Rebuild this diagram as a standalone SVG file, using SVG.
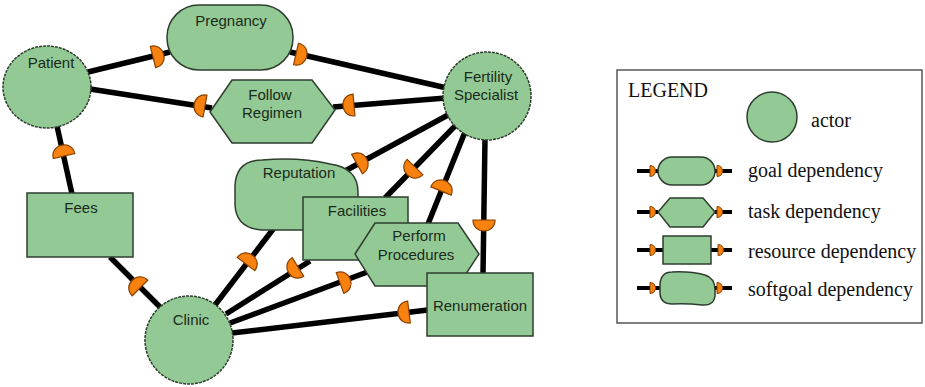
<svg xmlns="http://www.w3.org/2000/svg" width="925" height="387" viewBox="0 0 925 387">
<style>
.node{fill:#93c994;stroke:#2e3e2e;stroke-width:1.5}
.lbl{font-family:"Liberation Sans",Arial,sans-serif;font-size:15px;fill:#1b2b1b;text-anchor:middle}
.ln{stroke:#000;stroke-width:5.5;fill:none;stroke-linecap:butt}
.lg{font-family:"Liberation Serif","Times New Roman",serif;font-size:20px;fill:#111}
.lln{stroke:#000;stroke-width:4;fill:none}
</style>
<defs>
<path id="dm" d="M0,-11 C7,-11 11,-6 11,0 C11,6 7,11 0,11 Z" fill="#f7820f" stroke="#8a4000" stroke-width="1.2"/>
<path id="dms" d="M0,-5.5 C3.5,-5.5 5.5,-3 5.5,0 C5.5,3 3.5,5.5 0,5.5 Z" fill="#f7820f" stroke="#8a4000" stroke-width="1"/>
</defs>
<rect width="925" height="387" fill="#fff"/>
<g id="connectors">
<line class="ln" x1="88" y1="72" x2="170" y2="52"/>
<line class="ln" x1="290" y1="52" x2="447" y2="88"/>
<line class="ln" x1="90" y1="89" x2="212" y2="108"/>
<line class="ln" x1="333" y1="107" x2="446" y2="98"/>
<line class="ln" x1="57" y1="126" x2="72" y2="194"/>
<line class="ln" x1="110" y1="257" x2="162" y2="309"/>
<line class="ln" x1="215" y1="305" x2="274" y2="228"/>
<line class="ln" x1="226" y1="314" x2="310" y2="261"/>
<line class="ln" x1="230" y1="323" x2="370" y2="271"/>
<line class="ln" x1="232" y1="333" x2="428" y2="310"/>
<line class="ln" x1="448" y1="115" x2="345" y2="171"/>
<line class="ln" x1="455" y1="126" x2="385" y2="198"/>
<line class="ln" x1="465" y1="132" x2="428" y2="224"/>
<line class="ln" x1="485" y1="138" x2="483" y2="274"/>
<use href="#dm" transform="translate(153,57) rotate(-14)"/>
<use href="#dm" transform="translate(296,54) rotate(13)"/>
<use href="#dm" transform="translate(205,106) rotate(190)"/>
<use href="#dm" transform="translate(354,105) rotate(175)"/>
<use href="#dm" transform="translate(64,156) rotate(-103)"/>
<use href="#dm" transform="translate(140,288) rotate(225)"/>
<use href="#dm" transform="translate(246,264) rotate(-53)"/>
<use href="#dm" transform="translate(298,267) rotate(148)"/>
<use href="#dm" transform="translate(340,283) rotate(-20)"/>
<use href="#dm" transform="translate(409,312) rotate(173)"/>
<use href="#dm" transform="translate(357,164) rotate(-29)"/>
<use href="#dm" transform="translate(415,167) rotate(134)"/>
<use href="#dm" transform="translate(441,191) rotate(-68)"/>
<use href="#dm" transform="translate(484,220) rotate(90)"/>
</g>
<g id="patient"><ellipse class="node" cx="47" cy="87" rx="44" ry="41" stroke-dasharray="3,1"/><text class="lbl" x="51" y="68">Patient</text></g>
<g id="fertility-specialist"><circle class="node" cx="487" cy="96" r="44" stroke-dasharray="3,1"/><text class="lbl" x="488" y="82">Fertility</text><text class="lbl" x="486" y="100">Specialist</text></g>
<g id="clinic"><circle class="node" cx="189" cy="340" r="44" stroke-dasharray="3,1"/><text class="lbl" x="191" y="325">Clinic</text></g>
<g id="pregnancy"><rect class="node" x="167" y="5" width="126" height="65" rx="32" ry="32"/><text class="lbl" x="231" y="26">Pregnancy</text></g>
<g id="follow-regimen"><polygon class="node" points="210,112 232,80 312,80 335,110 312,143 232,143"/><text class="lbl" x="270" y="100">Follow</text><text class="lbl" x="272" y="118">Regimen</text></g>
<g id="fees"><rect class="node" x="27" y="193" width="106" height="64"/><text class="lbl" x="81" y="213">Fees</text></g>
<g id="reputation"><path class="node" d="M262,160 Q300,157 330,164 Q358,168 358,192 L358,212 Q358,230 332,230 L262,230 Q236,228 235,205 L235,186 Q236,160 262,160 Z"/><text class="lbl" x="299" y="178">Reputation</text></g>
<g id="facilities"><rect class="node" x="303" y="197" width="105" height="63"/><text class="lbl" x="357" y="216">Facilities</text></g>
<g id="perform-procedures"><polygon class="node" points="355,254 375,223 458,223 479,254 458,286 375,286"/><text class="lbl" x="419" y="241">Perform</text><text class="lbl" x="416" y="260">Procedures</text></g>
<g id="renumeration"><rect class="node" x="427" y="273" width="106" height="63"/><text class="lbl" x="480" y="311">Renumeration</text></g>
<g id="legend">
<rect x="617" y="70" width="305" height="253" fill="#fff" stroke="#555" stroke-width="1.5"/>
<text class="lg" x="628" y="97">LEGEND</text>
<circle class="node" cx="772" cy="117" r="25"/>
<text class="lg" x="811" y="127">actor</text>
<line class="lln" x1="637" y1="171" x2="658" y2="171"/><line class="lln" x1="715" y1="171" x2="732" y2="171"/>
<rect class="node" x="658" y="157" width="57" height="28" rx="14"/>
<use href="#dms" transform="translate(650,171)"/><use href="#dms" transform="translate(717,171)"/>
<text class="lg" x="748" y="177">goal dependency</text>
<line class="lln" x1="637" y1="212" x2="658" y2="212"/><line class="lln" x1="715" y1="212" x2="732" y2="212"/>
<polygon class="node" points="658,212 670,198 703,198 715,212 703,227 670,227"/>
<use href="#dms" transform="translate(650,212)"/><use href="#dms" transform="translate(717,212)"/>
<text class="lg" x="748" y="218">task dependency</text>
<line class="lln" x1="637" y1="250" x2="663" y2="250"/><line class="lln" x1="711" y1="250" x2="732" y2="250"/>
<rect class="node" x="663" y="236" width="48" height="28"/>
<use href="#dms" transform="translate(650,250)"/><use href="#dms" transform="translate(718,250)"/>
<text class="lg" x="748" y="258">resource dependency</text>
<line class="lln" x1="637" y1="288" x2="660" y2="288"/><line class="lln" x1="715" y1="288" x2="732" y2="288"/>
<path class="node" d="M672,272 Q690,271 705,275 Q715,278 715,290 L715,296 Q714,306 702,305 Q685,303 672,304 Q661,304 660,294 L660,284 Q661,272 672,272 Z"/>
<use href="#dms" transform="translate(650,288)"/><use href="#dms" transform="translate(717,288)"/>
<text class="lg" x="748" y="296">softgoal dependency</text>
</g>
</svg>
